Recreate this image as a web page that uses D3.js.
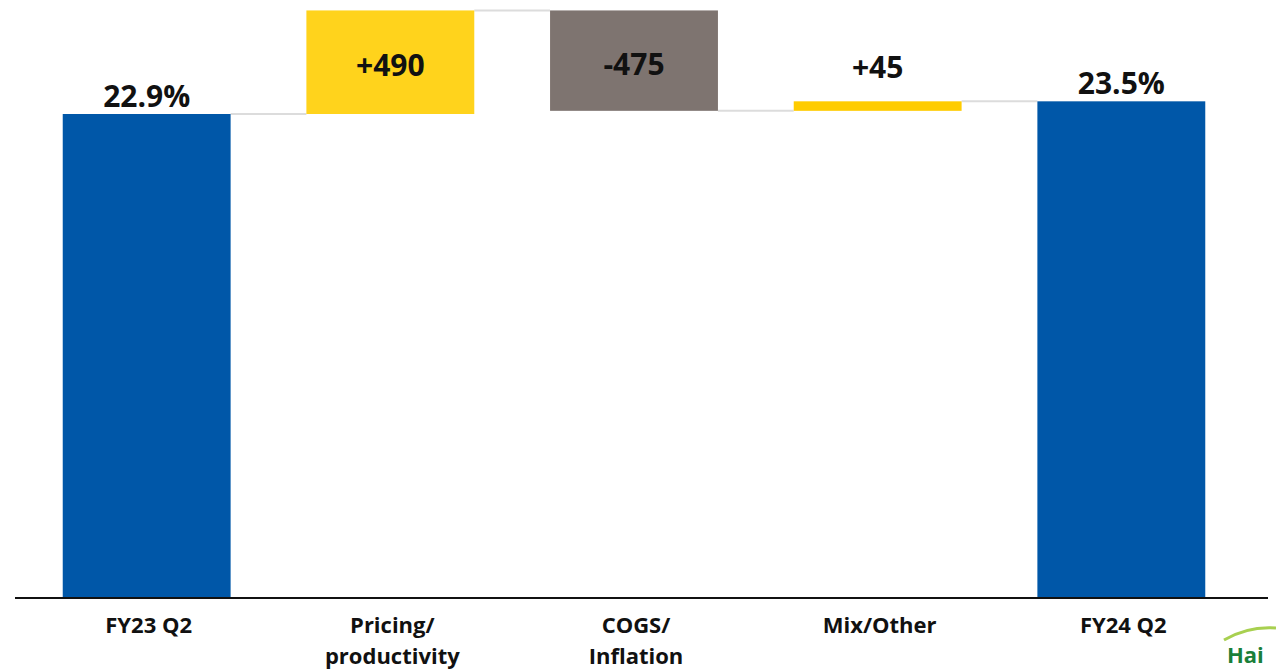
<!DOCTYPE html>
<html><head><meta charset="utf-8">
<script src="https://cdn.jsdelivr.net/npm/d3@7"></script>
<style>body{margin:0;background:#fff}svg{display:block}</style>
</head><body>
<svg id="c" width="1276" height="672"></svg>
<script>
const categories = ["FY23 Q2", "Pricing/\nproductivity", "COGS/\nInflation", "Mix/Other", "FY24 Q2"];
const values = [22.9, 4.90, -4.75, 0.45, 23.5];          // % ; deltas in % (bps/100)
const kinds = ["total", "delta", "delta", "delta", "total"];
const labels = ["22.9%", "+490", "-475", "+45", "23.5%"];
const colors = ["#0057A8", "#FFD31C", "#7E7470", "#FFCC00", "#0057A8"];

const font = "'Open Sans', 'DejaVu Sans', sans-serif";
const svg = d3.select("#c");
const x = d3.scaleBand().domain(categories).range([14, 1254]).paddingInner(0.311).paddingOuter(0.2);
const y = d3.scaleLinear().domain([0, 22.9]).range([598, 114]);

// compute waterfall
let run = 0;
const bars = categories.map((c, i) => {
  let y0, y1;
  if (kinds[i] === "total") { y0 = 0; y1 = values[i]; run = values[i]; }
  else { y0 = run; y1 = run + values[i]; run = y1; }
  return {c, i, lo: Math.min(y0, y1), hi: Math.max(y0, y1), start: y0, end: y1};
});

// connectors
for (let i = 0; i < bars.length - 1; i++) {
  const v = bars[i].end;
  svg.append("line")
    .attr("x1", x(bars[i].c) + x.bandwidth()).attr("x2", x(bars[i+1].c))
    .attr("y1", y(v)).attr("y2", y(v))
    .attr("stroke", "#dcdcdc").attr("stroke-width", 2);
}

svg.selectAll("rect.bar").data(bars).join("rect")
  .attr("x", d => x(d.c)).attr("width", x.bandwidth())
  .attr("y", d => y(d.hi)).attr("height", d => y(d.lo) - y(d.hi))
  .attr("fill", d => colors[d.i]);

// axis line
svg.append("line").attr("x1", 15).attr("x2", 1268).attr("y1", 598).attr("y2", 598)
  .attr("stroke", "#111").attr("stroke-width", 2);

// value labels
svg.selectAll("text.val").data(bars).join("text")
  .attr("x", d => x(d.c) + x.bandwidth() / 2)
  .attr("y", d => {
    if (d.i === 1 || d.i === 2) return (y(d.hi) + y(d.lo)) / 2 + 14;
    if (d.i === 3) return y(d.hi) - 23;
    return y(d.hi) - 7;
  })
  .attr("text-anchor", "middle")
  .style("font-family", font).style("font-weight", "bold").style("font-size", "30px")
  .attr("fill", "#111")
  .text(d => labels[d.i]);

// category labels
const cat = svg.selectAll("text.cat").data(categories).join("text")
  .attr("text-anchor", "middle")
  .style("font-family", font).style("font-weight", "bold").style("font-size", "22px")
  .attr("fill", "#111");
cat.each(function(c) {
  const lines = c.split("\n");
  const t = d3.select(this);
  lines.forEach((l, k) => t.append("tspan")
    .attr("x", x(c) + x.bandwidth() / 2 + 2).attr("y", 633 + k * 31).text(l));
});

// Haier logo mark (small, kept fully inside the frame)
svg.append("path").attr("d", "M1224,640 Q1248,626 1276,628")
  .attr("fill", "none").attr("stroke", "#a8d050").attr("stroke-width", 3);
svg.append("text").attr("x", 1227).attr("y", 663)
  .style("font-family", font).style("font-weight", "bold").style("font-size", "22px")
  .attr("fill", "#1a7f3a").text("Hai");
</script>
</body></html>
